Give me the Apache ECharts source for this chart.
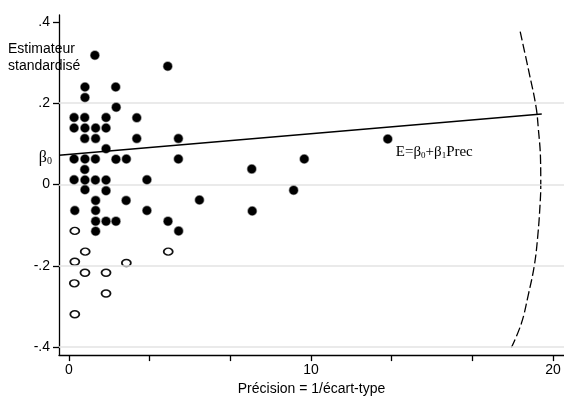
<!DOCTYPE html>
<html>
<head>
<meta charset="utf-8">
<script src="https://cdn.jsdelivr.net/npm/echarts@6/dist/echarts.min.js"></script>
<style>
  html, body { margin: 0; padding: 0; background: #fff; }
  #chart { width: 564px; height: 401px; }
</style>
</head>
<body>
<div id="chart"></div>
<script>
// Studies with a significant estimate: [precision (1/SE), standardised estimate]
const filledPoints = [
  [1.07, 0.318], [4.08, 0.291], [0.66, 0.240], [1.93, 0.240], [0.66, 0.214],
  [1.95, 0.190], [0.21, 0.165], [0.65, 0.165], [1.53, 0.165], [2.80, 0.164],
  [0.21, 0.139], [0.66, 0.139], [1.10, 0.139], [1.53, 0.139], [0.65, 0.113],
  [1.10, 0.113], [2.80, 0.113], [4.52, 0.113], [1.53, 0.088], [0.21, 0.063],
  [0.66, 0.063], [1.09, 0.063], [1.94, 0.062], [2.37, 0.063], [4.52, 0.063],
  [7.55, 0.038], [9.72, 0.063], [0.65, 0.037], [0.21, 0.012], [0.66, 0.011],
  [1.09, 0.011], [1.53, 0.011], [3.22, 0.012], [0.66, -0.013], [1.53, -0.015],
  [9.28, -0.014], [1.10, -0.039], [2.36, -0.039], [5.39, -0.038], [0.24, -0.064],
  [1.10, -0.064], [3.22, -0.064], [7.57, -0.065], [1.10, -0.090], [1.53, -0.090],
  [1.94, -0.090], [4.09, -0.090], [1.10, -0.115], [4.53, -0.114]
];
// The study carrying the regression equation label
const labelledPoint = [13.17, 0.112];

// Studies drawn as open circles
const hollowPoints = [
  [0.24, -0.114], [0.67, -0.165], [4.10, -0.165], [0.24, -0.190], [2.37, -0.193],
  [0.66, -0.217], [1.53, -0.217], [0.22, -0.243], [1.53, -0.268], [0.24, -0.319]
];

// Dashed envelope on the right-hand side
const envelope = [
  [18.64, 0.376], [18.98, 0.283], [19.29, 0.193], [19.39, 0.137], [19.48, 0.063],
  [19.49, -0.002], [19.46, -0.050], [19.37, -0.124], [19.23, -0.197], [18.98, -0.270],
  [18.68, -0.343], [18.22, -0.408]
];

// Fitted line E = b0 + b1 * Prec
const b0 = 0.074;
const b1 = 0.0051;
const fitRange = [-0.41, 19.53];

// Axis ticks and labels
const xTicks = [0, 10 / 3, 20 / 3, 10, 40 / 3, 50 / 3, 20];
const xLabels = [0, 10, 20];
const yTicks = [-0.4, -0.2, 0, 0.2, 0.4];
const yGrid = [0.2, 0, -0.2, -0.4];
const yLabelText = { '-0.4': '-.4', '-0.2': '-.2', '0': '0', '0.2': '.2', '0.4': '.4' };

const fitLine = fitRange.map(x => [x, b0 + b1 * x]);

const sans = '"Liberation Sans", Arial, Helvetica, sans-serif';
const serif = '"Liberation Serif", "Times New Roman", serif';

const chart = echarts.init(document.getElementById('chart'), null, { renderer: 'canvas' });

chart.setOption({
  animation: false,
  backgroundColor: '#ffffff',
  grid: { left: 59, top: 15, right: 0, bottom: 43, containLabel: false },
  xAxis: {
    type: 'value',
    min: -0.413,
    max: 20.45,
    name: 'Précision = 1/écart-type',
    nameLocation: 'middle',
    nameGap: 26,
    nameTextStyle: { fontFamily: sans, fontSize: 14, color: '#000' },
    axisLine: { show: true, onZero: false, lineStyle: { color: '#000', width: 1.3 } },
    axisTick: { show: true, length: 6, customValues: xTicks, lineStyle: { color: '#000', width: 1.3 } },
    axisLabel: {
      customValues: xLabels, margin: 8,
      fontFamily: sans, fontSize: 14, color: '#000',
      formatter: v => String(Math.round(v))
    },
    splitLine: { show: false }
  },
  yAxis: {
    type: 'value',
    min: -0.4195,
    max: 0.417,
    axisLine: { show: true, onZero: false, lineStyle: { color: '#000', width: 1.3 } },
    axisTick: { show: true, length: 6, customValues: yTicks, lineStyle: { color: '#000', width: 1.3 } },
    axisLabel: {
      customValues: yTicks, margin: 9,
      fontFamily: sans, fontSize: 14, color: '#000',
      formatter: v => yLabelText[String(Math.round(v * 10) / 10)] ?? String(v)
    },
    splitLine: { show: false }
  },
  graphic: [
    {
      type: 'text', left: 8, top: 41,
      style: {
        text: 'Estimateur\nstandardisé',
        font: '14px ' + sans, fill: '#000', lineHeight: 17
      }
    },
    {
      type: 'text', right: 512, top: 150,
      style: {
        text: '{b|β}{s|0}',
        align: 'right',
        rich: {
          b: { fontFamily: serif, fontSize: 16, fill: '#000', lineHeight: 18, verticalAlign: 'bottom' },
          s: { fontFamily: serif, fontSize: 10, fill: '#000', lineHeight: 14, verticalAlign: 'bottom' }
        }
      }
    }
  ],
  series: [
    {
      // horizontal reference lines
      type: 'scatter',
      data: [],
      silent: true,
      z: 1,
      markLine: {
        silent: true,
        symbol: ['none', 'none'],
        label: { show: false },
        lineStyle: { color: '#e3e3e3', width: 1.5, type: 'solid', opacity: 1 },
        data: yGrid.map(v => ({ yAxis: v }))
      }
    },
    {
      type: 'line',
      data: envelope,
      smooth: 0.4,
      showSymbol: false,
      z: 2,
      lineStyle: { color: '#000', width: 1.3, type: [9, 3.5] }
    },
    {
      type: 'line',
      data: fitLine,
      showSymbol: false,
      z: 3,
      lineStyle: { color: '#000', width: 1.6 }
    },
    {
      type: 'scatter',
      z: 4,
      symbol: 'circle',
      symbolSize: [9, 7],
      itemStyle: { color: '#ffffff', borderColor: '#111', borderWidth: 1.6, opacity: 1 },
      data: hollowPoints
    },
    {
      type: 'scatter',
      z: 5,
      symbol: 'circle',
      symbolSize: 8.5,
      itemStyle: { color: '#000', borderColor: 'rgba(0,0,0,0.45)', borderWidth: 1.5, opacity: 1 },
      data: filledPoints.concat([{
        value: labelledPoint,
        label: {
          show: true,
          position: 'right',
          distance: 3,
          offset: [0, 12],
          formatter: '{a|E=β}{s|0}{a|+β}{s|1}{a|Prec}',
          rich: {
            a: { fontFamily: serif, fontSize: 15, color: '#000', lineHeight: 18, verticalAlign: 'bottom' },
            s: { fontFamily: serif, fontSize: 9, color: '#000', lineHeight: 13, verticalAlign: 'bottom' }
          }
        }
      }])
    }
  ]
});
</script>
</body>
</html>
